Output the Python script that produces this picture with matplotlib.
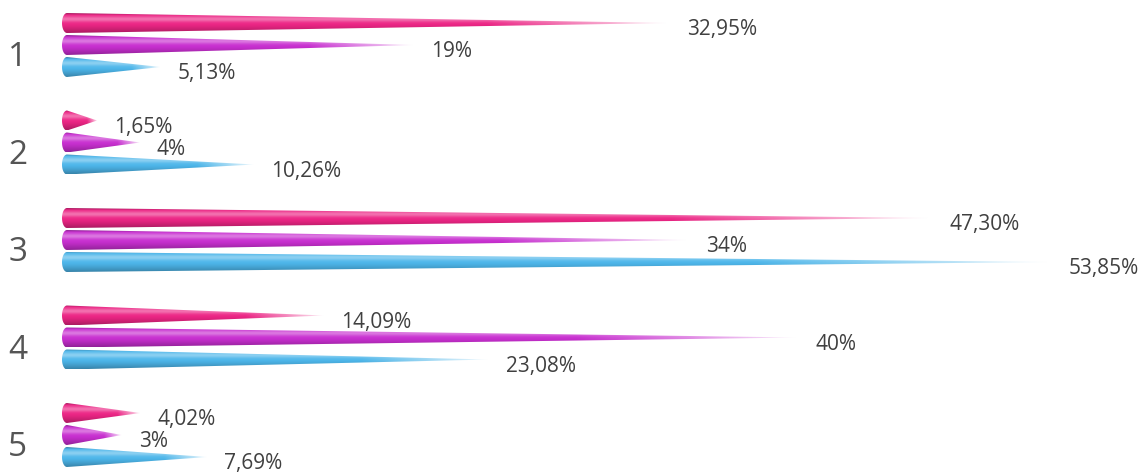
import numpy as np
import matplotlib
matplotlib.use('Agg')
import matplotlib.pyplot as plt
from matplotlib.patches import Polygon
from matplotlib.colors import to_rgb

categories = ['1', '2', '3', '4', '5']
series_a = [32.95, 1.65, 47.30, 14.09, 4.02]   # pink
series_b = [19, 4, 34, 40, 3]                   # magenta
series_c = [5.13, 10.26, 53.85, 23.08, 7.69]    # blue
decimals = [2, 0, 2]
colors = ['#EC2585', '#C82FD0', '#4DB6EA']

plt.rcParams['font.family'] = ['Open Sans', 'DejaVu Sans']

fig = plt.figure(figsize=(11.46, 4.73), dpi=100)
ax = fig.add_axes([0, 0, 1, 1])
px_per_pct = 18.3
xlim = (-67 / px_per_pct, (1146 - 67) / px_per_pct)
ylim = ((473 - 45) / 97.5, -45 / 97.5)
ax.axis('off')

offsets = [-22 / 97.5, 0, 22 / 97.5]
half_h = 10 / 97.5
cap_w = 5 / px_per_pct


def cone_image(color, n=80, m=300):
    base = np.array(to_rgb(color))
    s = np.linspace(0, 1, n)[:, None]
    light = 0.35 * np.exp(-((s - 0.3) / 0.14) ** 2)
    dark = 0.28 * np.clip((s - 0.55) / 0.45, 0, 1) ** 1.3 + 0.3 * np.clip((0.1 - s) / 0.1, 0, 1)
    rgb = base[None, :] * (1 - dark) + (1 - base[None, :]) * light * (1 - dark)
    rgb = np.clip(rgb, 0, 1)
    t = np.linspace(0, 1, m)[None, :]
    alpha = np.clip((1 - t) / 0.3, 0, 1) ** 0.8
    img = np.zeros((n, m, 4))
    img[..., :3] = rgb[:, None, :]
    img[..., 3] = np.broadcast_to(alpha, (n, m))
    return img


def draw_cone(y, value, color):
    theta = np.linspace(-np.pi / 2, np.pi / 2, 30)
    arc = np.column_stack([-cap_w * np.cos(theta), y + half_h * np.sin(theta)])
    verts = np.vstack([arc, [[value, y]]])
    poly = Polygon(verts, closed=True, facecolor='none', edgecolor='none')
    ax.add_patch(poly)
    im = ax.imshow(cone_image(color), extent=[-cap_w, value, y + half_h, y - half_h],
                   aspect='auto', interpolation='bilinear', zorder=2)
    im.set_clip_path(poly)


all_series = [series_a, series_b, series_c]
for i, cat in enumerate(categories):
    for j, ser in enumerate(all_series):
        y = i + offsets[j]
        v = ser[i]
        draw_cone(y, v, colors[j])
        if decimals[j] == 0:
            lab = f'{v:.0f}%'
        else:
            lab = f'{v:.2f}%'.replace('.', ',')
        ax.annotate(lab, (v, y), xytext=(12, -5), textcoords='offset points',
                    ha='left', va='center', fontsize=15, color='#404040')
    ax.annotate(cat, (xlim[0], i), xytext=(6, -9), textcoords='offset points',
                ha='left', va='center', fontsize=24, color='#555555')

ax.set_xlim(*xlim)
ax.set_ylim(*ylim)

fig.savefig('out.png', dpi=100)
